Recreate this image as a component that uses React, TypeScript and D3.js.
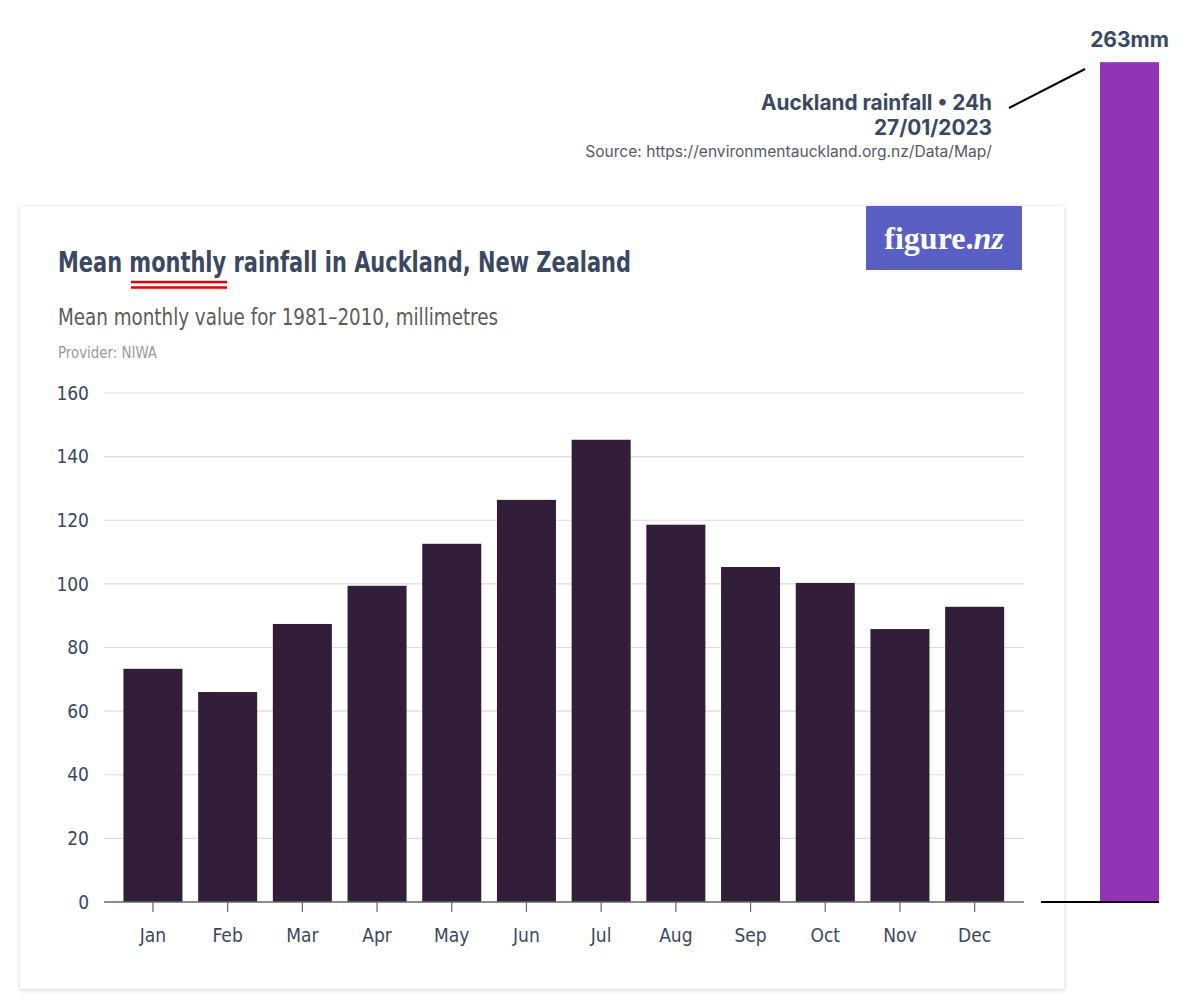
import React from 'react';
import * as d3 from 'd3';

const months = ['Jan', 'Feb', 'Mar', 'Apr', 'May', 'Jun', 'Jul', 'Aug', 'Sep', 'Oct', 'Nov', 'Dec'];
const rainfall = [73.3, 66.0, 87.4, 99.4, 112.6, 126.4, 145.3, 118.6, 105.3, 100.3, 85.8, 92.8];
const yTicks = [0, 20, 40, 60, 80, 100, 120, 140, 160];
const stormLabel = '263mm';
const stormValue = 264; // bar height as drawn in the picture

const W = 1200;
const H = 1008;
const narrow = '"Liberation Sans Narrow", "DejaVu Sans Condensed", "Roboto", sans-serif';
const inter = 'Inter, "Noto Sans", sans-serif';

export default function App() {
  const y = d3.scaleLinear().domain([0, 160]).range([902, 393]);
  const x = d3.scaleBand<string>()
    .domain(months)
    .range([115.6, 1012])
    .paddingInner(0.21)
    .paddingOuter(0.105);

  const stormX = 1100;
  const stormW = 59;

  return (
    <svg width={W} height={H} style={{ position: 'absolute', left: 0, top: 0, background: '#fff' }}>
      <defs>
        <filter id="shadow" x="-5%" y="-5%" width="110%" height="110%">
          <feDropShadow dx="0" dy="1" stdDeviation="2" floodColor="#000" floodOpacity="0.18" />
        </filter>
      </defs>

      {/* card */}
      <rect x={20} y={206} width={1044} height={783} fill="#fff" filter="url(#shadow)" />

      {/* logo */}
      <rect x={866} y={206} width={156} height={64} fill="#5a5fc4" />
      <text x={944} y={249} textAnchor="middle" fill="#fff"
        style={{ fontFamily: '"Liberation Serif", "DejaVu Serif", serif', fontSize: 32, fontWeight: 'bold' }}>
        figure.<tspan fontStyle="italic">nz</tspan>
      </text>

      {/* titles */}
      <text x={58} y={272} fill="#3b4862" textLength={573} lengthAdjust="spacingAndGlyphs"
        style={{ fontFamily: narrow, fontSize: 29, fontWeight: 'bold' }}>
        Mean monthly rainfall in Auckland, New Zealand
      </text>
      <line x1={131} x2={227} y1={282} y2={282} stroke="#e00000" strokeWidth={2.5} />
      <line x1={131} x2={227} y1={287.5} y2={287.5} stroke="#e00000" strokeWidth={2.5} />
      <text x={58} y={325} fill="#5b5b5b" textLength={440} lengthAdjust="spacingAndGlyphs"
        style={{ fontFamily: narrow, fontSize: 23 }}>
        Mean monthly value for 1981–2010, millimetres
      </text>
      <text x={58} y={358} fill="#9a9a9a" textLength={99} lengthAdjust="spacingAndGlyphs"
        style={{ fontFamily: narrow, fontSize: 15 }}>
        Provider: NIWA
      </text>

      {/* grid + y labels */}
      {yTicks.map(t => (
        <g key={t}>
          {t > 0 && <line x1={104} x2={1024} y1={y(t)} y2={y(t)} stroke="#dcdcdc" strokeWidth={1.2} />}
          <text x={89} y={y(t)} dy="0.35em" textAnchor="end" fill="#3b4862"
            style={{ fontFamily: narrow, fontSize: 19 }}>
            {t}
          </text>
        </g>
      ))}

      {/* bars */}
      {months.map((m, i) => (
        <rect key={m} x={x(m)} y={y(rainfall[i])} width={x.bandwidth()} height={y(0) - y(rainfall[i])}
          fill="#321e38" />
      ))}

      {/* x axis */}
      <line x1={104} x2={1024} y1={y(0)} y2={y(0)} stroke="#666" strokeWidth={1.3} />
      {months.map(m => {
        const cx = (x(m) ?? 0) + x.bandwidth() / 2;
        return (
          <g key={m}>
            <line x1={cx} x2={cx} y1={y(0)} y2={y(0) + 10} stroke="#666" strokeWidth={1.2} />
            <text x={cx} y={942} textAnchor="middle" fill="#3b4862"
              style={{ fontFamily: narrow, fontSize: 19 }}>
              {m}
            </text>
          </g>
        );
      })}

      {/* 24h storm bar */}
      <rect x={stormX} y={y(stormValue)} width={stormW} height={y(0) - y(stormValue)} fill="#9234b3" />
      <line x1={1041} x2={stormX + stormW} y1={y(0)} y2={y(0)} stroke="#000" strokeWidth={2} />
      <text x={stormX + stormW / 2} y={47} textAnchor="middle" fill="#3b4862"
        style={{ fontFamily: inter, fontSize: 21, fontWeight: 'bold' }}>
        {stormLabel}
      </text>
      <line x1={1009} x2={1085} y1={108} y2={69} stroke="#000" strokeWidth={2} />

      <text x={992} y={110} textAnchor="end" fill="#3b4862"
        style={{ fontFamily: inter, fontSize: 20.8, fontWeight: 'bold' }}>
        Auckland rainfall • 24h
      </text>
      <text x={992} y={135} textAnchor="end" fill="#3b4862"
        style={{ fontFamily: inter, fontSize: 20.8, fontWeight: 'bold' }}>
        27/01/2023
      </text>
      <text x={992} y={157} textAnchor="end" fill="#555b6a"
        style={{ fontFamily: inter, fontSize: 15.6 }}>
        Source: https://environmentauckland.org.nz/Data/Map/
      </text>
    </svg>
  );
}
